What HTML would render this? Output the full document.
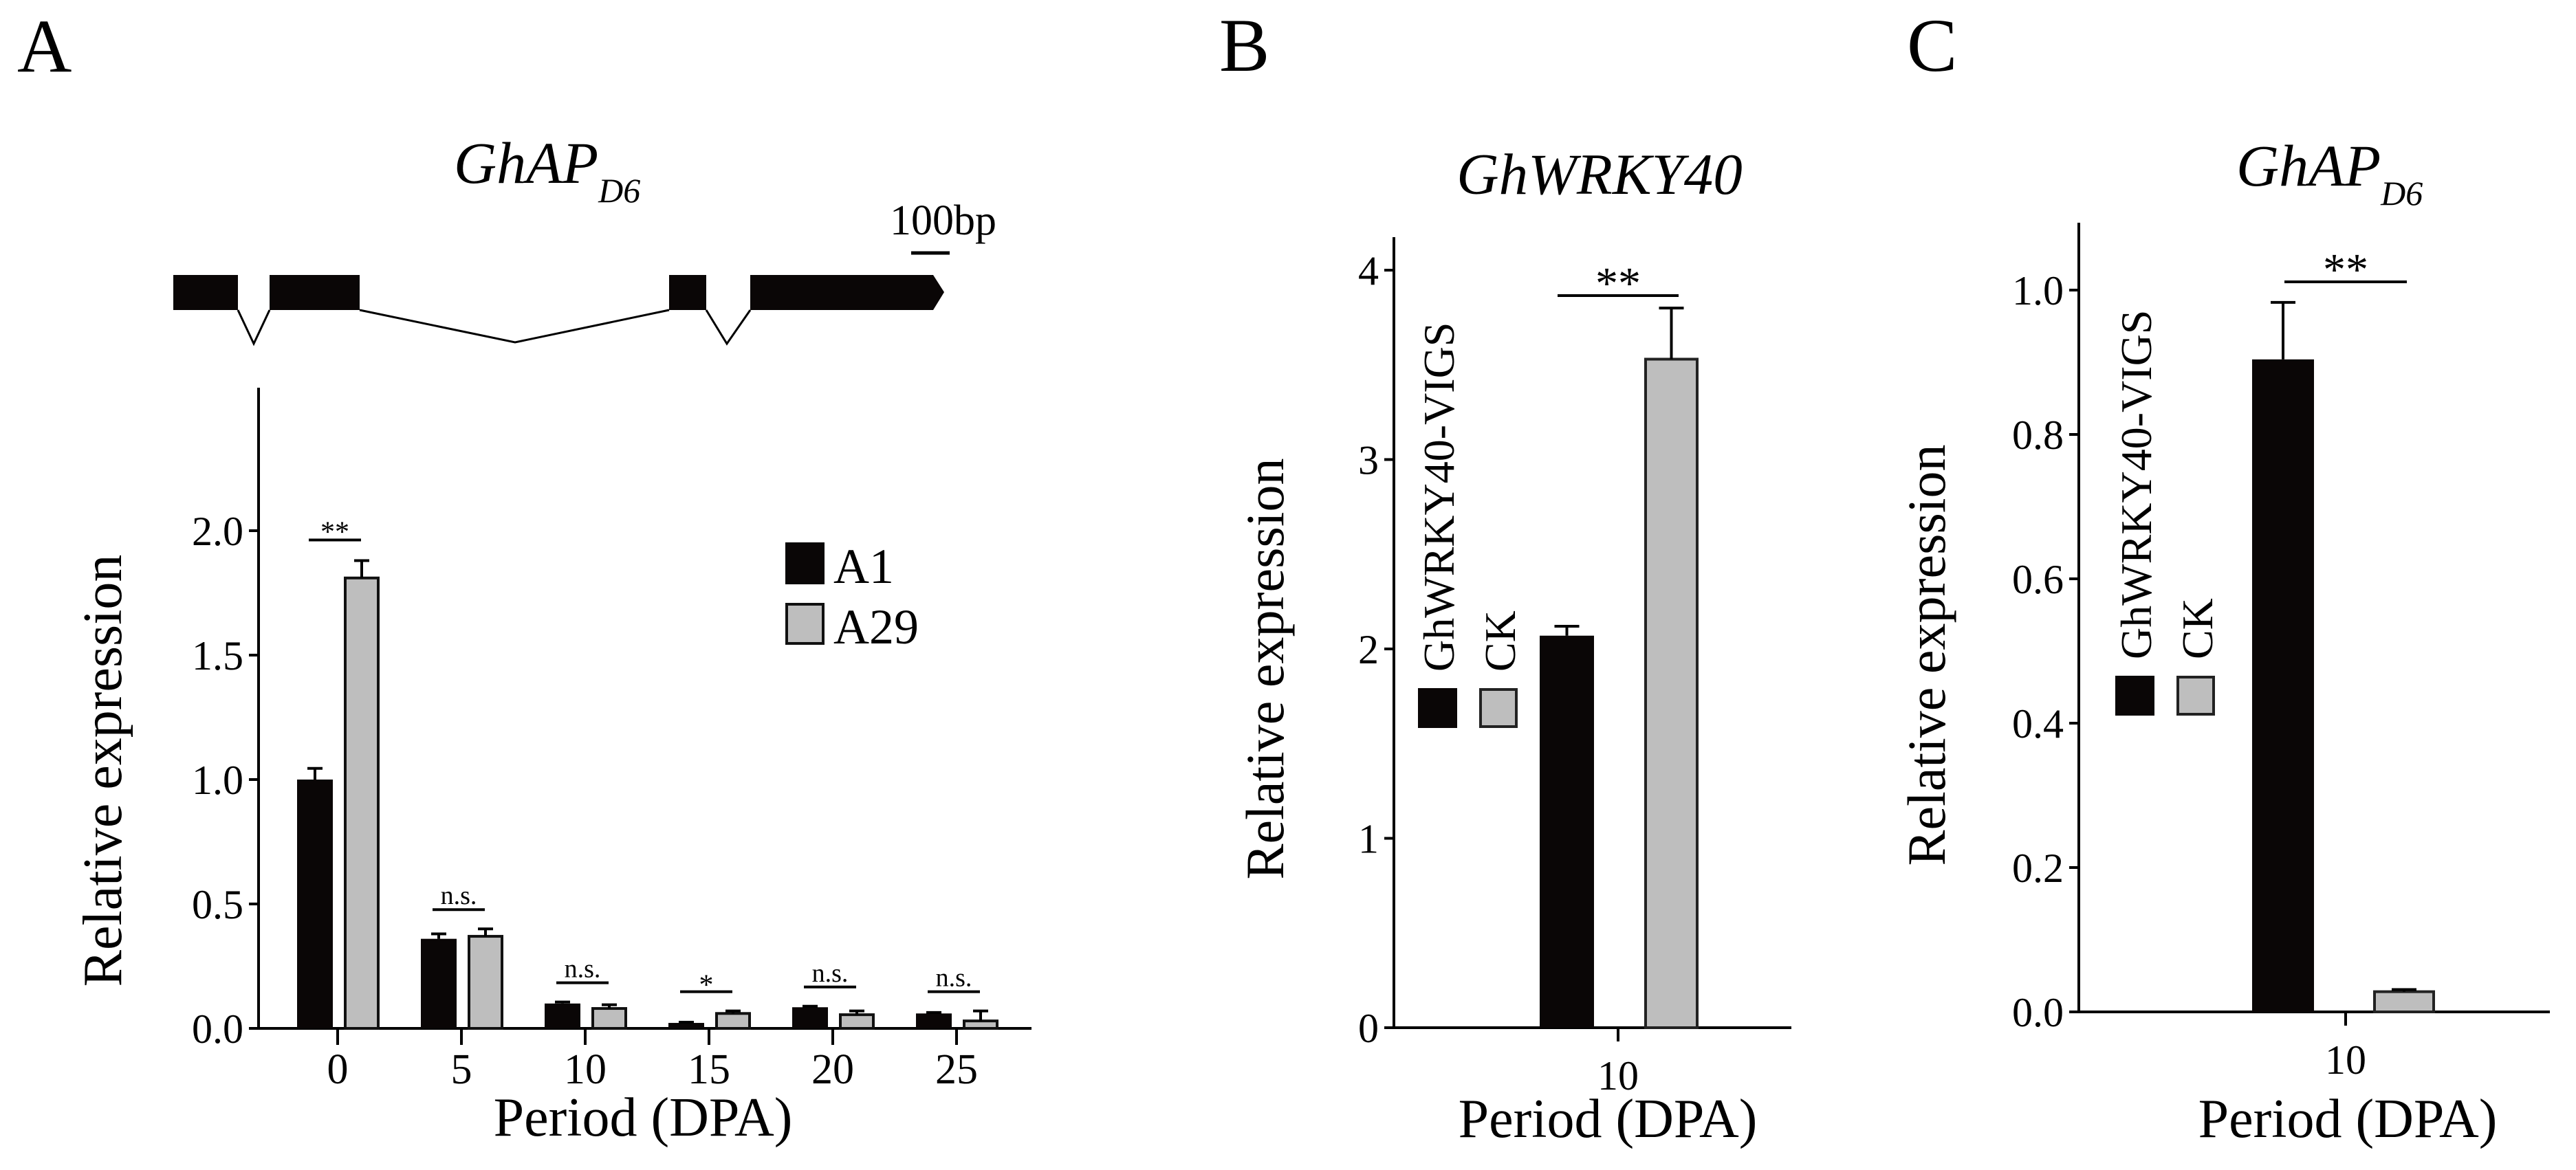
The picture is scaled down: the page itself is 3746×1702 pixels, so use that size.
<!DOCTYPE html>
<html><head><meta charset="utf-8"><style>
html,body{margin:0;padding:0;background:#fff;}
svg{display:block;font-family:"Liberation Serif",serif;}
</style></head><body>
<svg id="fig" width="3746" height="1702" viewBox="0 0 3746 1702" xmlns="http://www.w3.org/2000/svg">
<rect x="0" y="0" width="3746" height="1702" fill="#fff"/>
<text x="25" y="104" font-size="110">A</text>
<text x="660" y="266" font-size="86" font-style="italic">GhAP<tspan font-size="50" dy="28">D6</tspan></text>
<g>
<rect x="252" y="400" width="94" height="51" fill="#0a0606"/>
<rect x="392" y="400" width="131" height="51" fill="#0a0606"/>
<rect x="973" y="400" width="54" height="51" fill="#0a0606"/>
<polygon points="1091,400 1357,400 1373,425 1357,451 1091,451" fill="#0a0606"/>
<polyline points="346,451 369,500 392,451" fill="none" stroke="#000" stroke-width="3"/>
<polyline points="523,451 749,498 973,451" fill="none" stroke="#000" stroke-width="3"/>
<polyline points="1027,451 1057,500 1091,451" fill="none" stroke="#000" stroke-width="3"/>
<line x1="1325" y1="368" x2="1381" y2="368" stroke="#000" stroke-width="5"/>
<text x="1294" y="341" font-size="62">100bp</text>
</g>
<g id="chartA"></g>
<text x="1773" y="103" font-size="110">B</text>
<text x="2326" y="282" font-size="85" font-style="italic" text-anchor="middle">GhWRKY40</text>
<g id="chartB"></g>
<text x="2773" y="103" font-size="110">C</text>
<text x="3252" y="270" font-size="86" font-style="italic">GhAP<tspan font-size="50" dy="28">D6</tspan></text>
<g id="chartC"></g>
</svg>
<script>
// Chart A data
const catsA = ["0","5","10","15","20","25"];
const a1Vals = [1.0, 0.36, 0.10, 0.022, 0.085, 0.06];
const a29Vals = [1.81, 0.37, 0.08, 0.06, 0.055, 0.03];
const a1Err = [0.045, 0.02, 0.006, 0.003, 0.004, 0.004];
const a29Err = [0.07, 0.03, 0.015, 0.01, 0.015, 0.04];
const sigA = ["**","n.s.","n.s.","*","n.s.","n.s."];
const ticksA = [0, 0.5, 1.0, 1.5, 2.0];
// Chart B data
const catsB = ["10"];
const bVigs = [2.07];
const bCk = [3.53];
const bVigsErr = [0.05];
const bCkErr = [0.27];
const ticksB = [0,1,2,3,4];
// Chart C data
const catsC = ["10"];
const cVigs = [0.904];
const cCk = [0.028];
const cVigsErr = [0.079];
const cCkErr = [0.003];
const ticksC = [0,0.2,0.4,0.6,0.8,1.0];

const NS="http://www.w3.org/2000/svg";
function mk(parent,tag,attrs,txt){const e=document.createElementNS(NS,tag);for(const k in attrs)e.setAttribute(k,attrs[k]);if(txt!==undefined)e.textContent=txt;parent.appendChild(e);return e;}
const BLACK="#0a0606", GREY="#bebebe";

function errBar(g,cx,top,errPx,capW){
  const l1=mk(g,'line',{x1:cx,y1:top,x2:cx,y2:top-errPx,stroke:'#000','stroke-width':4});
  
  
  const l2=mk(g,'line',{x1:cx-capW/2,y1:top-errPx,x2:cx+capW/2,y2:top-errPx,stroke:'#000','stroke-width':4});
  
  
}

(function(){
  const g=document.getElementById('chartA');
  const x0=376, y0=1496, unit=362, first=491, step=180, bw=52;
  const yA=v=>y0-v*unit, xA=i=>first+i*step;
  const ax=mk(g,'path',{d:`M${x0} 564 L${x0} ${y0} L1500 ${y0}`,fill:'none',stroke:'#000','stroke-width':4});
  
  
  ticksA.forEach(t=>{
    mk(g,'line',{x1:x0-14,y1:yA(t),x2:x0,y2:yA(t),stroke:'#000','stroke-width':4});
    const tl=mk(g,'text',{x:x0-22,y:yA(t)+21,'font-size':60,'text-anchor':'end'},t.toFixed(1));
    
    
  });
  catsA.forEach((c,i)=>{
    const cx=xA(i);
    mk(g,'line',{x1:cx,y1:y0,x2:cx,y2:y0+24,stroke:'#000','stroke-width':4});
    const tl=mk(g,'text',{x:cx,y:1576,'font-size':62,'text-anchor':'middle'},c);
    
    
    const b1=mk(g,'rect',{x:cx-59,y:yA(a1Vals[i]),width:bw,height:a1Vals[i]*unit,fill:BLACK});
    
    
    errBar(g,cx-59+bw/2,yA(a1Vals[i]),a1Err[i]*unit,22);
    const b2=mk(g,'rect',{x:cx+11,y:yA(a29Vals[i]),width:bw-4,height:a29Vals[i]*unit,fill:GREY,stroke:'#111','stroke-width':4});
    
    
    errBar(g,cx+9+bw/2,yA(a29Vals[i]),a29Err[i]*unit,22);
    const top=Math.max(a1Vals[i]+a1Err[i],a29Vals[i]+a29Err[i]);
    const ly=yA(top)-(i===0?30:28);
    const sl=mk(g,'line',{x1:cx-42,y1:ly,x2:cx+34,y2:ly,stroke:'#000','stroke-width':4});
    
    
    const st=mk(g,'text',{x:cx-4,y:ly-(sigA[i]==='n.s.'?8:(sigA[i]==='**'?-2:-4)),'font-size':sigA[i]==='n.s.'?38:42,'text-anchor':'middle'},sigA[i]);
    
    
  });
  const l1=mk(g,'rect',{x:1142,y:789,width:57,height:61,fill:BLACK});
  
  
  const lt1=mk(g,'text',{x:1212,y:848,'font-size':72},'A1');
  
  
  const l2=mk(g,'rect',{x:1144,y:879,width:53,height:57,fill:GREY,stroke:'#111','stroke-width':4});
  
  
  const lt2=mk(g,'text',{x:1212,y:936,'font-size':72},'A29');
  
  
  const yt=mk(g,'text',{x:0,y:0,'font-size':80,'text-anchor':'middle',transform:'translate(176,1121) rotate(-90)'},'Relative expression');
  
  
  const xt=mk(g,'text',{x:935,y:1652,'font-size':80,'text-anchor':'middle'},'Period (DPA)');
  
  
})();

function drawBC(gid,o){
  const g=document.getElementById(gid);
  const y=v=>o.y0-v*o.unit;
  const ax=mk(g,'path',{d:`M${o.x0} ${o.top} L${o.x0} ${o.y0} L${o.xEnd} ${o.y0}`,fill:'none',stroke:'#000','stroke-width':4});
  
  
  o.ticks.forEach(t=>{
    mk(g,'line',{x1:o.x0-14,y1:y(t),x2:o.x0,y2:y(t),stroke:'#000','stroke-width':4});
    const tl=mk(g,'text',{x:o.x0-22,y:y(t)+21,'font-size':60,'text-anchor':'end'},o.fmt(t));
    
    
  });
  const cx=o.cx;
  mk(g,'line',{x1:cx,y1:o.y0,x2:cx,y2:o.y0+20,stroke:'#000','stroke-width':4});
  const xl=mk(g,'text',{x:cx,y:o.y0+90,'font-size':60,'text-anchor':'middle'},o.cats[0]);
  
  
  const b1=mk(g,'rect',{x:o.b1x,y:y(o.vigs[0]),width:o.bw,height:o.vigs[0]*o.unit,fill:BLACK});
  
  
  errBar(g,o.b1x+o.bw/2,y(o.vigs[0]),o.vigsErr[0]*o.unit,36);
  const b2=mk(g,'rect',{x:o.b2x,y:y(o.ck[0]),width:o.bw-4,height:o.ck[0]*o.unit,fill:GREY,stroke:'#222','stroke-width':4});
  
  
  errBar(g,o.b2x+o.bw/2-2,y(o.ck[0]),o.ckErr[0]*o.unit,36);
  const sl=mk(g,'line',{x1:o.sigX1,y1:o.sigY,x2:o.sigX2,y2:o.sigY,stroke:'#000','stroke-width':4});
  
  
  const st=mk(g,'text',{x:(o.sigX1+o.sigX2)/2,y:o.sigY+4,'font-size':66,'text-anchor':'middle'},'**');
  
  
  const t1=mk(g,'text',{x:0,y:0,'font-size':64,transform:`translate(${o.legX+52},${o.legBase}) rotate(-90)`},'GhWRKY40-VIGS');
  
  
  const t2=mk(g,'text',{x:0,y:0,'font-size':64,transform:`translate(${o.legX+141},${o.legBase}) rotate(-90)`},'CK');
  
  
  const s1=mk(g,'rect',{x:o.legX,y:o.legBase+24,width:57,height:58,fill:BLACK});
  
  
  const s2=mk(g,'rect',{x:o.legX+91,y:o.legBase+26,width:52,height:54,fill:GREY,stroke:'#222','stroke-width':4});
  
  
  const yt=mk(g,'text',{x:0,y:0,'font-size':78,'text-anchor':'middle',transform:`translate(${o.ytX},${o.ytY}) rotate(-90)`},'Relative expression');
  
  
  const xt=mk(g,'text',{x:o.xtX,y:1654,'font-size':80,'text-anchor':'middle'},'Period (DPA)');
  
  
}
drawBC('chartB',{x0:2027,y0:1495,top:345,xEnd:2605,unit:275.5,ticks:ticksB,fmt:t=>String(t),cats:catsB,cx:2353,
  vigs:bVigs,ck:bCk,vigsErr:bVigsErr,ckErr:bCkErr,b1x:2239,b2x:2393,bw:79,
  sigX1:2265,sigX2:2441,sigY:430,legX:2062,legBase:977,ytX:1866,ytY:973,xtX:2338});
drawBC('chartC',{x0:3023,y0:1472,top:324,xEnd:3708,unit:1050,ticks:ticksC,fmt:t=>t.toFixed(1),cats:catsC,cx:3411,
  vigs:cVigs,ck:cCk,vigsErr:cVigsErr,ckErr:cCkErr,b1x:3275,b2x:3453,bw:90,
  sigX1:3322,sigX2:3500,sigY:410,legX:3076,legBase:959,ytX:2828,ytY:953,xtX:3414});
</script>
</body></html>
